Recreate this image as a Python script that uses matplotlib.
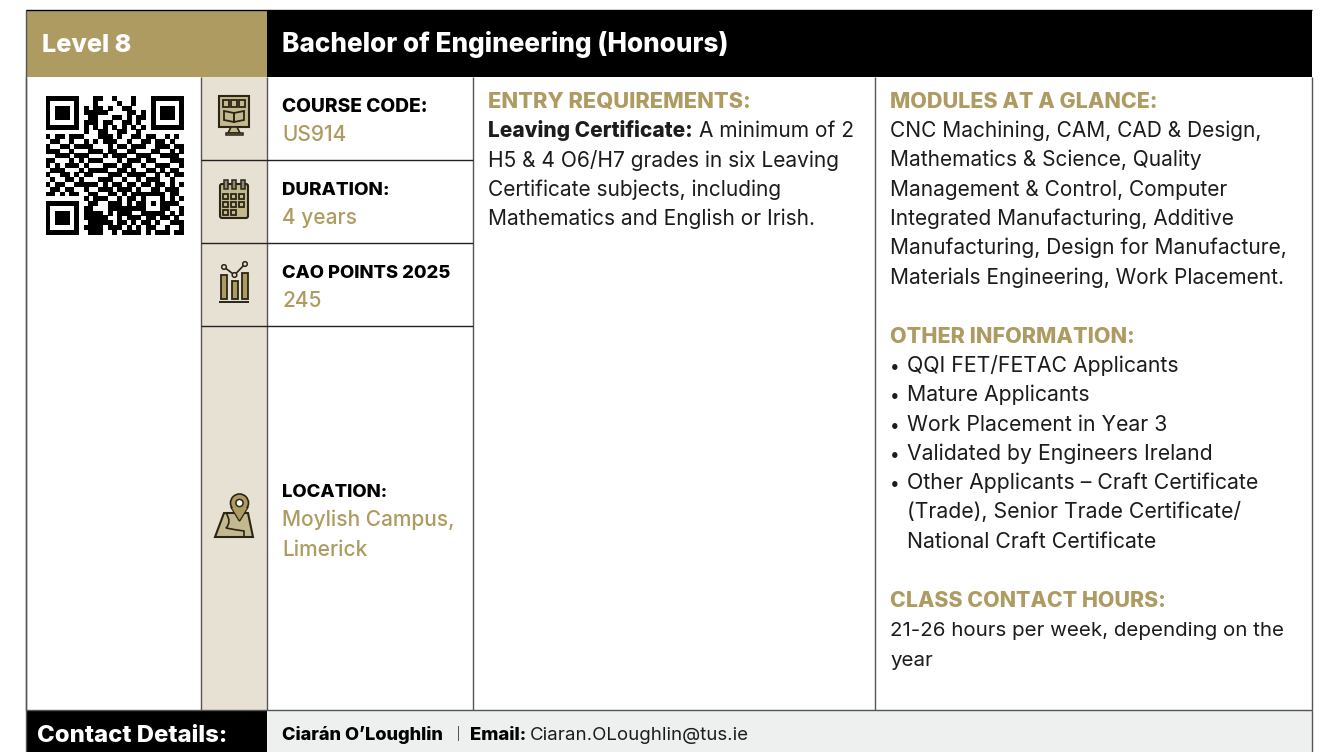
import matplotlib
matplotlib.use("Agg")
import matplotlib.pyplot as plt
from matplotlib.patches import Rectangle, Polygon, Circle, FancyBboxPatch, PathPatch
from matplotlib.path import Path

GOLD = "#AE9B62"; BEIGE = "#E6E1D3"; ICON = "#C4B88F"; LINE = "#555555"; FOOT = "#EEF0EF"; INK = "#1c1c1c"
plt.rcParams['font.family'] = ['Inter', 'DejaVu Sans']

level = "Level 8"
title = "Bachelor of Engineering (Honours)"
facts = [("COURSE CODE:", ["US914"]), ("DURATION:", ["4 years"]),
         ("CAO POINTS 2025", ["245"]), ("LOCATION:", ["Moylish Campus,", "Limerick"])]
entry_head = "ENTRY REQUIREMENTS:"
entry_bold = "Leaving Certificate:"
entry_first = "A minimum of 2"
entry_lines = ["H5 & 4 O6/H7 grades in six Leaving", "Certificate subjects, including",
               "Mathematics and English or Irish."]
mod_head = "MODULES AT A GLANCE:"
mod_lines = ["CNC Machining, CAM, CAD & Design,", "Mathematics & Science, Quality",
             "Management & Control, Computer", "Integrated Manufacturing, Additive",
             "Manufacturing, Design for Manufacture,", "Materials Engineering, Work Placement."]
other_head = "OTHER INFORMATION:"
other_lines = [("• ", "QQI FET/FETAC Applicants"), ("• ", "Mature Applicants"),
               ("• ", "Work Placement in Year 3"), ("• ", "Validated by Engineers Ireland"),
               ("• ", "Other Applicants – Craft Certificate"), ("", "(Trade), Senior Trade Certificate/"),
               ("", "National Craft Certificate")]
hours_head = "CLASS CONTACT HOURS:"
hours_lines = ["21-26 hours per week, depending on the", "year"]
foot_label = "Contact Details:"
foot_name = "Ciarán O’Loughlin"
foot_email_label = "Email:"
foot_email = "Ciaran.OLoughlin@tus.ie"
qr = [
"11111110001100100010001111111",
"10000010001000010010001000001",
"10111010101101001100001011101",
"10111010111110000110101011101",
"10111010011000110101101011101",
"10000010111011001101001000001",
"11111110101010101010101111111",
"00000000100110011001000000000",
"10110111000111010011011001010",
"01100100101011100100110110100",
"10011011110001011011100111011",
"11100100011101100110001100101",
"00111011100010111001110011110",
"11000101011100010111011000111",
"10101110100011101100100111001",
"01110001011110011010011010110",
"10011010110001110111100101011",
"01001101000111001001011100100",
"10110011111010110110110110101",
"01101100100111011101001101110",
"11010110011001101011111110110",
"00000000101110010110100010101",
"11111110011001110101101011110",
"10000010110001111111100011001",
"10111010111101011100111110101",
"10111010111110010111011011010",
"10111010011111011010110100111",
"10000010111101110101011001001",
"11111110011100101111010111011",
]

fig = plt.figure(figsize=(13.28, 7.52), dpi=100, facecolor="white")
ax = fig.add_axes([0, 0, 1, 1])
ax.set_xlim(0, 1328); ax.set_ylim(752, 0); ax.axis("off")

def rect(x0, y0, x1, y1, c, z=1):
    ax.add_patch(Rectangle((x0, y0), x1-x0, y1-y0, fc=c, ec="none", zorder=z))
def hl(y, x0, x1, c=LINE, lw=1.0):
    ax.plot([x0, x1], [y, y], color=c, lw=lw, zorder=3, solid_capstyle="butt")
def vl(x, y0, y1, c=LINE, lw=1.0):
    ax.plot([x, x], [y0, y1], color=c, lw=lw, zorder=3, solid_capstyle="butt")
def T(x, y, s, c=INK, size=15, w="normal"):
    ax.text(x, y, s, color=c, fontsize=size, fontweight=w, va="baseline", ha="left", zorder=5)

HEAVY = 800
BODY = 15.05

# blocks
rect(26, 10, 267, 77, GOLD); rect(267, 10, 1312, 77, "#000000")
rect(201, 77, 267, 710, BEIGE)
rect(26, 710, 267, 752, "#000000"); rect(267, 710, 1312, 752, FOOT)
for x in (26, 201, 267, 473, 875, 1311.5):
    vl(x, 77, 710)
vl(26, 10, 752); vl(1311.5, 710, 752)
hl(10, 26, 1312, "#000000")
hl(710, 26, 1312)
for y in (160, 243, 326):
    hl(y, 201, 473, "#222222")

T(42, 52, level, "white", 18.2, HEAVY)
T(282, 52, title, "white", 18.8, HEAVY)

# facts
fy = [112, 195, 278, 497]
fact_sizes = [13.8, 13.5, 13.25, 13.3]
for (h, vals), y, fs in zip(facts, fy, fact_sizes):
    T(282, y, h, "#000000", fs, HEAVY)
    for i, v in enumerate(vals):
        T(282, y + 29 + i*30, v, GOLD, 15.05, "medium")

# middle column
T(488, 108, entry_head, GOLD, 15.7, HEAVY)
T(488, 137, entry_bold, INK, 15.05, HEAVY)
T(699, 137, entry_first, INK, BODY)
for i, s in enumerate(entry_lines):
    T(488, 167 + i*29.2, s, INK, BODY)

# right column
T(890, 108, mod_head, GOLD, 15.45, HEAVY)
for i, s in enumerate(mod_lines):
    T(890, 137 + i*29.3, s, INK, BODY)
T(890, 343, other_head, GOLD, 15.5, HEAVY)
for i, (b, s) in enumerate(other_lines):
    if b:
        T(890, 372 + i*29.3, "•", INK, 12.5)
    T(907, 372 + i*29.3, s, INK, 15.3)
T(890, 607, hours_head, GOLD, 15.37, HEAVY)
for i, s in enumerate(hours_lines):
    T(890, 636 + i*30, s, INK, 14.77)

# footer
T(37, 742, foot_label, "white", 17.2, HEAVY)
T(282, 740, foot_name, "#000000", 13.1, HEAVY)
rect(458, 726, 459, 741, "#555555", 5)
T(470, 740, foot_email_label, "#000000", 13.4, HEAVY)
T(530, 740, foot_email, INK, 13.45)

# QR
m = 138.5 / 29
for r, row in enumerate(qr):
    for c, ch in enumerate(row):
        if ch == "1":
            rect(45.5 + c*m, 96 + r*m, 45.5 + (c+1)*m + .2, 96 + (r+1)*m + .2, "#000000", 4)

EDGE = "#2b2516"
def P(p):
    ax.add_patch(p); return p
# icon 1: board with book
P(Rectangle((219, 96), 30, 31, fc=ICON, ec=EDGE, lw=1.5, zorder=6))
for x in (223, 231, 239):
    P(Rectangle((x, 100), 5.5, 7, fc="none", ec=EDGE, lw=1.3, zorder=7))
P(Polygon([(224, 111), (234, 113), (234, 122), (224, 120)], fc="none", ec=EDGE, lw=1.3, zorder=7))
P(Polygon([(244, 111), (234, 113), (234, 122), (244, 120)], fc="none", ec=EDGE, lw=1.3, zorder=7))
P(Polygon([(231, 127), (237, 127), (240, 133), (228, 133)], fc=ICON, ec=EDGE, lw=1.2, zorder=6))
P(Rectangle((226, 133), 17, 2.2, fc=GOLD, ec=EDGE, lw=1.1, zorder=6))
# icon 2: calendar
P(FancyBboxPatch((220, 184), 28, 34, boxstyle="round,pad=0,rounding_size=2", fc=ICON, ec=EDGE, lw=1.5, zorder=6))
for x in (225.5, 234, 242.5):
    P(Rectangle((x-2, 180), 4, 9, fc="#8f8a78", ec=EDGE, lw=1.1, zorder=7))
for r, y in enumerate((194, 202, 210)):
    for c, x in enumerate((223, 231, 239)):
        if not (r == 2 and c == 2):
            P(Rectangle((x, y), 5, 5, fc="none", ec=EDGE, lw=1.3, zorder=7))
# icon 3: bars
for x, y0 in ((220.5, 275), (231.5, 281), (242, 273)):
    P(Rectangle((x, y0), 6, 299 - y0, fc=GOLD, ec=EDGE, lw=1.3, zorder=6))
ax.plot([224, 234.5, 245], [267, 275, 264], color=EDGE, lw=1.2, zorder=6)
for x, y in ((224, 267), (234.5, 275), (245, 264)):
    P(Circle((x, y), 2.3, fc=BEIGE, ec=EDGE, lw=1.1, zorder=7))
hl(301.5, 219, 249, EDGE, 1.4)
# icon 4: map + pin
P(Polygon([(224, 513), (248, 513), (253, 537), (215, 537)], fc=ICON, ec=EDGE, lw=1.5, zorder=6))
path = Path([(226, 513), (232, 522), (226, 528), (236, 530), (244, 531), (244, 537)],
            [Path.MOVETO, Path.CURVE3, Path.CURVE3, Path.CURVE3, Path.CURVE3, Path.LINETO])
P(PathPatch(path, fc="none", ec=EDGE, lw=1.2, zorder=7))
P(Polygon([(231, 507), (248, 507), (239.5, 521)], fc=GOLD, ec=EDGE, lw=1.2, zorder=7))
P(Circle((239.5, 503), 9, fc=GOLD, ec=EDGE, lw=1.2, zorder=7))
P(Polygon([(232, 508), (247, 508), (239.5, 520)], fc=GOLD, ec="none", zorder=8))
P(Circle((239.5, 503), 3.6, fc="white", ec=EDGE, lw=1.1, zorder=9))

fig.savefig("out.png", dpi=100, facecolor="white")
